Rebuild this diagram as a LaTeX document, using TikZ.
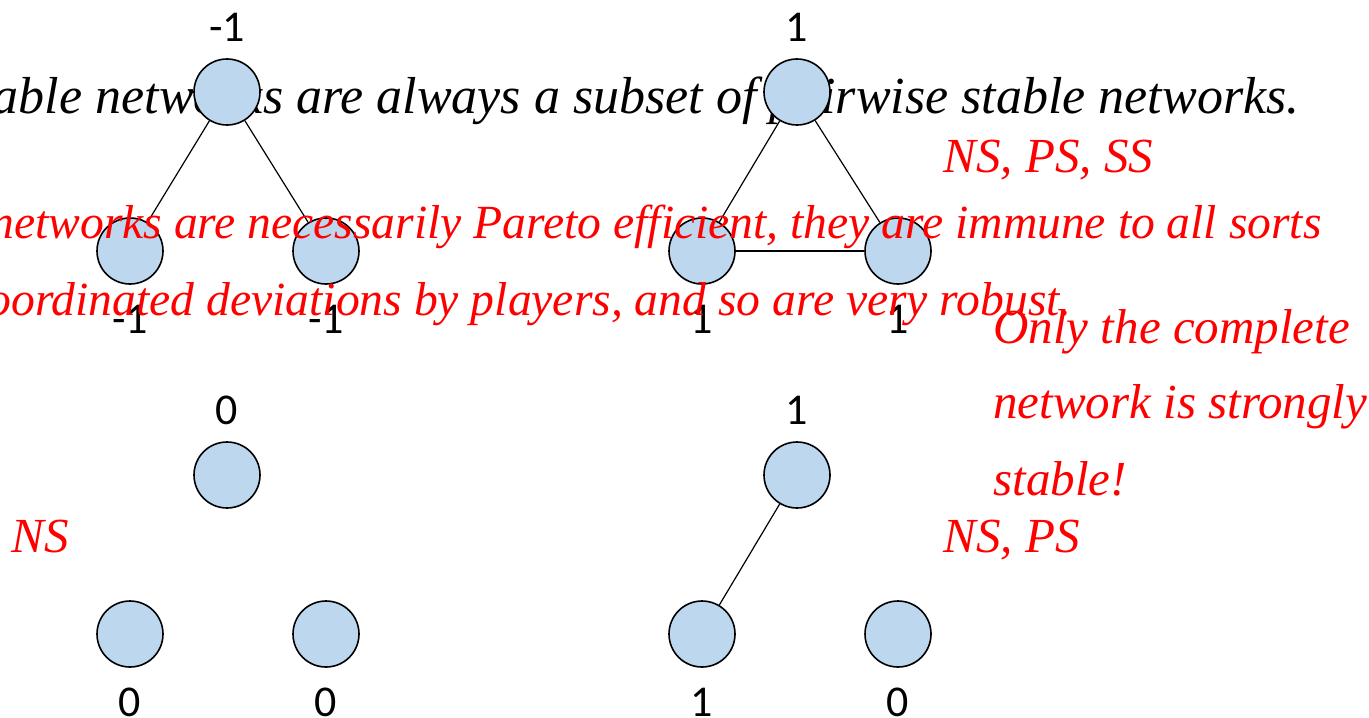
\documentclass[tikz,border=0pt]{standalone}
\usepackage{fontspec}
\setmainfont{Liberation Serif}
\newfontfamily\payofffont{Carlito}
\definecolor{nodeblue}{RGB}{189,215,238}

\begin{document}
\begin{tikzpicture}[x=0.5pt, y=-0.5pt,
		player/.style={draw=black, thick, circle, fill=nodeblue, minimum size=33pt, inner sep=0pt},
		link/.style={draw=black, semithick},
		note/.style={text=red, inner sep=0pt, anchor=base west, font=\itshape\fontsize{24.5}{29}\selectfont},
		remark/.style={text=red, inner sep=0pt, anchor=base east, font=\itshape\fontsize{23.8}{28}\selectfont},
		every label/.style={inner sep=0pt, font=\payofffont\fontsize{22}{26}\selectfont},
		label distance=10pt]
		\useasboundingbox (0,0) rectangle (1369,717);

		% slide text sitting behind the networks
		\node[anchor=base east, inner sep=0pt, font=\itshape\fontsize{26}{31}\selectfont] (subset) at (1300,113) {able networks are always a subset of pairwise stable networks.};

		% two links
		\node[player, label={[label distance=8pt]above:-1}] at (227, 92) (a1) {};
		\node[player, label=below:-1] at (130, 251) (a2) {};
		\node[player, label=below:-1] at (326, 251) (a3) {};

		% complete network
		\node[player, label={[label distance=8pt]above:1}] at (797, 92) (b1) {};
		\node[player, label=below:1] at (702, 251) (b2) {};
		\node[player, label=below:1] at (898, 251) (b3) {};

		% empty network
		\node[player, label={[label distance=8pt]above:0}] at (227, 475) (c1) {};
		\node[player, label=below:0] at (130, 634) (c2) {};
		\node[player, label=below:0] at (326, 634) (c3) {};

		% one link
		\node[player, label={[label distance=8pt]above:1}] at (797, 475) (d1) {};
		\node[player, label=below:1] at (702, 634) (d2) {};
		\node[player, label=below:0] at (898, 634) (d3) {};

		\path
		(a1) edge[link] (a2)
		(a1) edge[link] (a3)
		(b1) edge[link] (b2)
		(b1) edge[link] (b3)
		(b2) edge[link] (b3)
		(d1) edge[link] (d2);

		% red remarks
		\node[remark] (pareto) at (1322, 238) {networks are necessarily Pareto efficient, they are immune to all sorts};
		\node[remark] (robust) at (1072, 315) {coordinated deviations by players, and so are very robust.};
		\node[note] (nsb) at (943, 172) {NS, PS, SS};
		\node[note] (only) at (993, 343) {Only the complete};
		\node[note] (strongly) at (993, 418) {network is strongly};
		\node[note] (stable) at (993, 495) {stable!};
		\node[note] (nsc) at (11, 552) {NS};
		\node[note] (nsd) at (943, 552) {NS, PS};
\end{tikzpicture}
\end{document}
